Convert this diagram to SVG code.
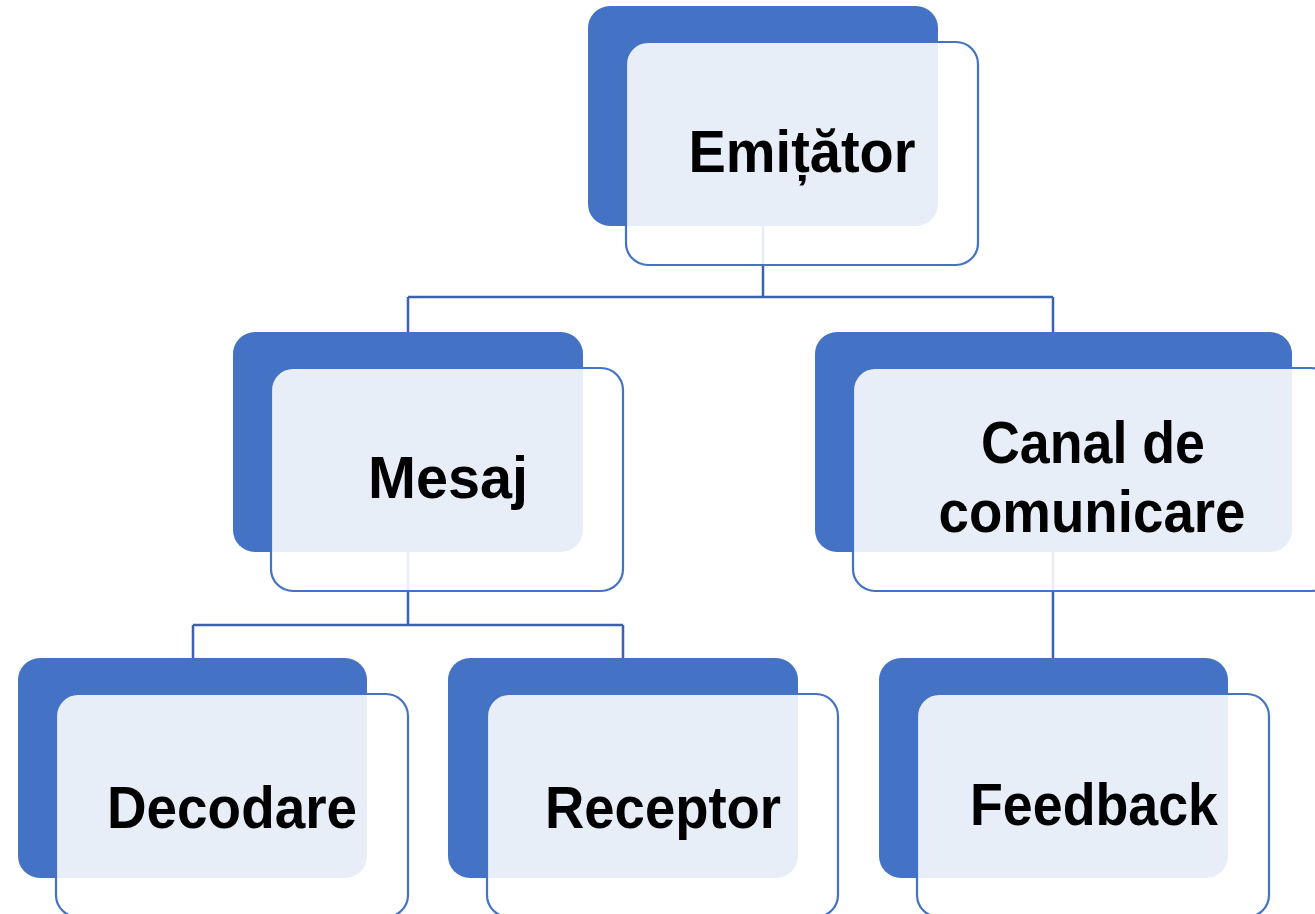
<svg xmlns="http://www.w3.org/2000/svg" width="1315" height="914" viewBox="0 0 1315 914">
<style>
.back{fill:#4472C4;}
.front{fill:#FFFFFF;fill-opacity:0.88;stroke:#4472C4;stroke-width:2.2;}
.lbl{font-family:"Liberation Sans",Arial,sans-serif;font-weight:bold;font-size:59px;fill:#000;text-anchor:middle;}
.conn{fill:none;stroke:#3A62AE;stroke-width:2.5;}
</style>
<rect width="1315" height="914" fill="#FFFFFF"/>
<g id="connectors">
<path class="conn" d="M763,226 V297 M408,297 H1053 M408,297 V332 M1053,297 V332"/>
<path class="conn" d="M408,552 V625 M193,625 H623 M193,625 V658 M623,625 V658"/>
<path class="conn" d="M1053,552 V658"/>
</g>
<g id="node-emitator">
<rect class="back" x="588" y="6" width="350" height="220" rx="22"/>
<rect class="front" x="626" y="42" width="352" height="223" rx="22"/>
<text class="lbl" x="802" y="172" textLength="227" lengthAdjust="spacingAndGlyphs">Emițător</text>
</g>
<g id="node-mesaj">
<rect class="back" x="233" y="332" width="350" height="220" rx="22"/>
<rect class="front" x="271" y="368" width="352" height="223" rx="22"/>
<text class="lbl" x="448" y="498" textLength="160" lengthAdjust="spacingAndGlyphs">Mesaj</text>
</g>
<g id="node-canal">
<rect class="back" x="815" y="332" width="477" height="220" rx="22"/>
<rect class="front" x="853" y="368" width="480" height="223" rx="22"/>
<text class="lbl" x="1093" y="463" textLength="224" lengthAdjust="spacingAndGlyphs">Canal de</text>
<text class="lbl" x="1092" y="532" textLength="307" lengthAdjust="spacingAndGlyphs">comunicare</text>
</g>
<g id="node-decodare">
<rect class="back" x="18" y="658" width="349" height="220" rx="22"/>
<rect class="front" x="56" y="694" width="352" height="223" rx="22"/>
<text class="lbl" x="232" y="828" textLength="250" lengthAdjust="spacingAndGlyphs">Decodare</text>
</g>
<g id="node-receptor">
<rect class="back" x="448" y="658" width="350" height="220" rx="22"/>
<rect class="front" x="487" y="694" width="351" height="223" rx="22"/>
<text class="lbl" x="663" y="828" textLength="236" lengthAdjust="spacingAndGlyphs">Receptor</text>
</g>
<g id="node-feedback">
<rect class="back" x="879" y="658" width="349" height="220" rx="22"/>
<rect class="front" x="917" y="694" width="352" height="223" rx="22"/>
<text class="lbl" x="1094" y="825" textLength="248" lengthAdjust="spacingAndGlyphs">Feedback</text>
</g>
</svg>
